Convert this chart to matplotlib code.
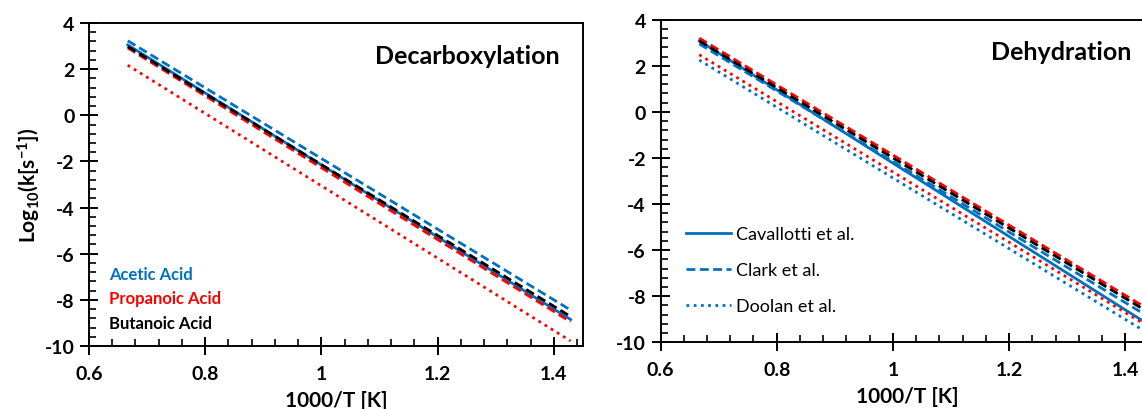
import matplotlib
matplotlib.use("Agg")
import matplotlib.pyplot as plt
from matplotlib.ticker import FixedLocator, MultipleLocator

plt.rcParams['font.family'] = ['Lato', 'DejaVu Sans']
plt.rcParams['mathtext.default'] = 'regular'
plt.rcParams['axes.unicode_minus'] = False

BLUE = '#0070C0'
RED = '#FF0000'
BLACK = '#000000'

# 1000/T at 1500 K and 700 K
x_ends = [0.6667, 1.4286]

# Decarboxylation, log10(k) at both ends
decarb_acetic_cav = [3.05, -8.85]
decarb_acetic_clark = [3.23, -8.44]
decarb_propanoic_clark = [2.92, -8.95]
decarb_propanoic_doolan = [2.17, -9.78]
decarb_butanoic_clark = [2.98, -8.72]

# Dehydration
dehyd_acetic_cav = [3.08, -9.05]
dehyd_acetic_clark = [2.95, -8.72]
dehyd_acetic_doolan = [2.25, -9.45]
dehyd_propanoic_clark = [3.20, -8.40]
dehyd_propanoic_doolan = [2.48, -9.15]
dehyd_butanoic_clark = [3.08, -8.53]

x_ticks = [0.6, 0.8, 1.0, 1.2, 1.4]
x_labels = ['0.6', '0.8', '1', '1.2', '1.4']
y_ticks = [-10, -8, -6, -4, -2, 0, 2, 4]
y_labels = ['-10', '-8', '-6', '-4', '-2', '0', '2', '4']

acid_names = ['Acetic Acid', 'Propanoic Acid', 'Butanoic Acid']
acid_colors = [BLUE, RED, BLACK]
method_names = ['Cavallotti et al.', 'Clark et al.', 'Doolan et al.']

LW = 2.0
DASH = (0, (3.2, 1.6))
DOT = (0, (1, 1.6))

W, H = 1142, 410
fig = plt.figure(figsize=(W / 100, H / 100), dpi=100)
ax1 = fig.add_axes([89 / W, 63 / H, 494 / W, 323 / H])
ax2 = fig.add_axes([660.5 / W, 66.7 / H, 494 / W, 322.6 / H])


def style_axes(ax):
    ax.set_xlim(0.6, 1.45)
    ax.set_ylim(-10, 4)
    ax.xaxis.set_major_locator(FixedLocator(x_ticks))
    ax.set_xticklabels(x_labels)
    ax.yaxis.set_major_locator(FixedLocator(y_ticks))
    ax.set_yticklabels(y_labels)
    ax.xaxis.set_minor_locator(MultipleLocator(0.04))
    ax.yaxis.set_minor_locator(MultipleLocator(0.4))
    ax.tick_params(which='major', direction='inout', length=13, width=1.4,
                   labelsize=14)
    ax.tick_params(axis='x', which='major', pad=7)
    ax.tick_params(axis='y', which='major', pad=4)
    ax.tick_params(which='minor', direction='in', length=5, width=1.2)
    for lab in ax.get_xticklabels() + ax.get_yticklabels():
        lab.set_fontweight('bold')
    for sp in ax.spines.values():
        sp.set_linewidth(1.4)
    ax.set_xlabel('1000/T [K]', fontsize=15, fontweight='bold', labelpad=6)


# ---- Decarboxylation
style_axes(ax1)
ax1.plot(x_ends, decarb_acetic_cav, color=BLUE, lw=LW, ls='-')
ax1.plot(x_ends, decarb_acetic_clark, color=BLUE, lw=LW, ls=DASH)
ax1.plot(x_ends, decarb_propanoic_clark, color=RED, lw=LW, ls=DASH)
ax1.plot(x_ends, decarb_propanoic_doolan, color=RED, lw=LW, ls=DOT)
ax1.plot(x_ends, decarb_butanoic_clark, color=BLACK, lw=LW, ls=DASH)
ax1.set_ylabel('Log$_{10}$(k[s$^{-1}$])', fontsize=15, fontweight='bold', labelpad=1)
ax1.text(1.41, 2.6, 'Decarboxylation', fontsize=18, fontweight='bold',
         ha='right', va='center')

proxies = [plt.Line2D([], [], color='none') for _ in acid_names]
leg1 = ax1.legend(proxies, acid_names, loc='upper left', bbox_to_anchor=(0.04, 0.248),
                  frameon=False, handlelength=0, handletextpad=0, borderpad=0,
                  borderaxespad=0, labelspacing=0.5,
                  prop={'size': 12, 'weight': 'bold'})
for txt, c in zip(leg1.get_texts(), acid_colors):
    txt.set_color(c)

# ---- Dehydration
style_axes(ax2)
l_cav, = ax2.plot(x_ends, dehyd_acetic_cav, color=BLUE, lw=LW, ls='-')
l_clark, = ax2.plot(x_ends, dehyd_acetic_clark, color=BLUE, lw=LW, ls=DASH)
l_doolan, = ax2.plot(x_ends, dehyd_acetic_doolan, color=BLUE, lw=LW, ls=DOT)
ax2.plot(x_ends, dehyd_propanoic_clark, color=RED, lw=LW, ls=DASH)
ax2.plot(x_ends, dehyd_propanoic_doolan, color=RED, lw=LW, ls=DOT)
ax2.plot(x_ends, dehyd_butanoic_clark, color=BLACK, lw=LW, ls=DASH)
ax2.text(1.41, 2.6, 'Dehydration', fontsize=18, fontweight='bold',
         ha='right', va='center')
ax2.legend([l_cav, l_clark, l_doolan], method_names, loc='upper left',
           bbox_to_anchor=(0.052, 0.36), frameon=False, handlelength=2.5,
           handletextpad=0.28, borderpad=0, borderaxespad=0, labelspacing=1.1,
           prop={'size': 13})

fig.savefig('out.png', dpi=100)
